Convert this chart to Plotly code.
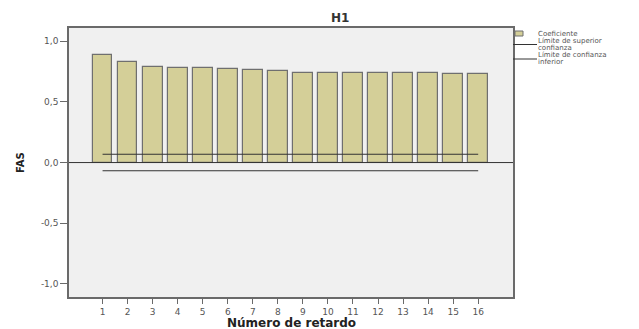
import plotly.graph_objects as go

lags = list(range(1, 17))
coef = [0.887, 0.829, 0.788, 0.780, 0.780, 0.774, 0.761, 0.758,
        0.739, 0.739, 0.736, 0.739, 0.741, 0.741, 0.731, 0.731]
upper = [0.069] * 16
lower = [-0.067] * 16
yticks = [-1.0, -0.5, 0.0, 0.5, 1.0]
ytext = ["-1,0", "-0,5", "0,0", "0,5", "1,0"]

BAR = "#d4cf98"
EDGE = "#6f6f6f"
AX = "#6a6a6a"
TXT = "#555555"
FONT = "DejaVu Sans"

fig = go.Figure()
fig.add_trace(go.Bar(x=lags, y=coef, width=0.79,
                     marker=dict(color=BAR, line=dict(color=EDGE, width=1.2)),
                     name="Coeficiente", showlegend=False))
fig.add_trace(go.Scatter(x=lags, y=upper, mode="lines",
                         line=dict(color="#333333", width=1.1), showlegend=False))
fig.add_trace(go.Scatter(x=lags, y=lower, mode="lines",
                         line=dict(color="#333333", width=1.1), showlegend=False))

# zero reference line
fig.add_hline(y=0, line=dict(color="#333333", width=1))

L, R, T, B = 69, 126, 28, 32
W, H = 639, 329
pw, ph = W - L - R, H - T - B

def px(xp):
    return (xp - L) / pw

def py(yp):
    return (H - B - yp) / ph

fig.update_layout(
    width=W, height=H,
    margin=dict(l=L, r=R, t=T, b=B, pad=0),
    paper_bgcolor="white", plot_bgcolor="#f0f0f0",
    font=dict(family=FONT, size=8, color=TXT),
    bargap=0,
    xaxis=dict(range=[-0.34, 17.39], tickmode="array", tickvals=lags,
               ticktext=[str(v) for v in lags], ticks="outside", ticklen=5,
               tickcolor=AX, showgrid=False, zeroline=False,
               showline=True, linecolor=AX, linewidth=1.5, mirror=True,
               tickfont=dict(size=9, color=TXT)),
    yaxis=dict(range=[-1.108, 1.109], tickmode="array", tickvals=yticks,
               ticktext=ytext, ticks="outside", ticklen=7, tickcolor=AX,
               showgrid=False, zeroline=False, showline=True, linecolor=AX,
               linewidth=1.5, mirror=True, tickfont=dict(size=9, color=TXT)),
    showlegend=False,
)

ann = []
ann.append(dict(text="<b>H1</b>", x=px(340), y=py(18), xref="paper", yref="paper",
                showarrow=False, font=dict(size=12, color="#333333"),
                xanchor="center", yanchor="middle"))
ann.append(dict(text="<b>Número de retardo</b>", x=px(291), y=py(322.5), xref="paper",
                yref="paper", showarrow=False, font=dict(size=12, color="#222222"),
                xanchor="center", yanchor="middle"))
ann.append(dict(text="<b>FAS</b>", x=px(20), y=py(163), xref="paper", yref="paper",
                showarrow=False, textangle=-90, font=dict(size=10, color="#222222"),
                xanchor="center", yanchor="middle"))
# legend texts
leg = [("Coeficiente", 33.5), ("Límite de superior", 41), ("confianza", 48),
       ("Límite de confianza", 55), ("inferior", 62)]
for t, yy in leg:
    ann.append(dict(text=t, x=px(536), y=py(yy), xref="paper", yref="paper",
                    showarrow=False, font=dict(size=7, color=TXT),
                    xanchor="left", yanchor="middle"))
fig.update_layout(annotations=ann)

shapes = []
shapes.append(dict(type="rect", xref="paper", yref="paper",
                   x0=px(515), x1=px(523), y0=py(36), y1=py(31),
                   fillcolor=BAR, line=dict(color=EDGE, width=1)))
shapes.append(dict(type="line", xref="paper", yref="paper",
                   x0=px(513), x1=px(537), y0=py(44.5), y1=py(44.5),
                   line=dict(color="#333333", width=1)))
shapes.append(dict(type="line", xref="paper", yref="paper",
                   x0=px(513), x1=px(537), y0=py(59), y1=py(59),
                   line=dict(color="#333333", width=1)))
for s in shapes:
    fig.add_shape(**s)

fig.write_html("out.html")
